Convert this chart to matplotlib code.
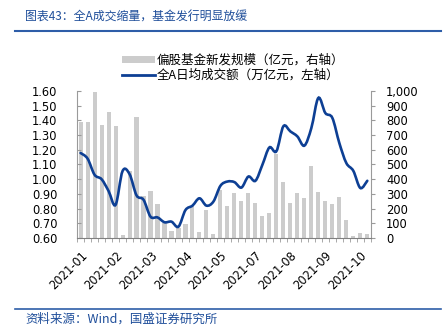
import numpy as np
import matplotlib
matplotlib.use('Agg')
import matplotlib.pyplot as plt
from matplotlib.path import Path
from matplotlib.patches import PathPatch, Patch
from matplotlib.lines import Line2D

plt.rcParams['font.family'] = ['Noto Sans CJK SC', 'DejaVu Sans']

# 周度数据
x_labels = ['2021-01', '2021-02', '2021-03', '2021-04', '2021-05',
            '2021-07', '2021-08', '2021-09', '2021-10']
label_every = 5

# 偏股基金新发规模（亿元）
fund_new = [790, 790, 990, 770, 860, 760, 18, 455, 820, 285,
            320, 232, 105, 48, 65, 92, 220, 40, 188, 30,
            325, 218, 305, 252, 305, 238, 147, 172, 572, 383,
            238, 304, 274, 488, 315, 250, 228, 277, 122, 12,
            35, 25]

# 全A日均成交额（万亿元）
turnover = [1.178, 1.14, 1.03, 1.00, 0.92, 0.825, 1.055, 1.035, 0.89, 0.86,
            0.745, 0.74, 0.707, 0.711, 0.677, 0.79, 0.82, 0.87, 0.82, 0.848,
            0.955, 0.984, 0.98, 0.943, 1.018, 0.989, 1.098, 1.216, 1.19, 1.36,
            1.325, 1.291, 1.228, 1.348, 1.553, 1.45, 1.417, 1.246, 1.11, 1.057,
            0.94, 0.989]

blue = '#0D3F94'
title_blue = '#1F4E9A'
grey_bar = '#CCCCCC'
axis_grey = '#9A9A9A'


def smooth_path(xs, ys):
    # 平滑折线：用三次贝塞尔曲线连接各数据点
    xs = np.asarray(xs, float)
    ys = np.asarray(ys, float)
    n = len(xs)
    verts = [(xs[0], ys[0])]
    codes = [Path.MOVETO]
    for i in range(n - 1):
        i0 = max(i - 1, 0)
        i3 = min(i + 2, n - 1)
        c1 = (xs[i] + (xs[i + 1] - xs[i0]) / 6, ys[i] + (ys[i + 1] - ys[i0]) / 6)
        c2 = (xs[i + 1] - (xs[i3] - xs[i]) / 6, ys[i + 1] - (ys[i3] - ys[i]) / 6)
        verts += [c1, c2, (xs[i + 1], ys[i + 1])]
        codes += [Path.CURVE4] * 3
    return Path(verts, codes)


fig = plt.figure(figsize=(4.43, 3.35), dpi=100)
ax = fig.add_axes([0.174, 0.2896, 0.663, 0.4388])
ax2 = ax.twinx()

x = np.arange(len(fund_new))

# 柱状图（右轴）
ax2.bar(x, fund_new, width=0.58, color=grey_bar, zorder=1)
ax2.set_ylim(0, 1000)
ax2.set_yticks(np.arange(0, 1001, 100))
ax2.set_yticklabels(['{:,}'.format(v) for v in range(0, 1001, 100)],
                    family='DejaVu Sans', fontsize=8.3)

# 成交额（左轴）
ax.set_zorder(ax2.get_zorder() + 1)
ax.patch.set_visible(False)
ax.add_patch(PathPatch(smooth_path(x, turnover), facecolor='none',
                       edgecolor=blue, lw=1.9, capstyle='round'))
ax.set_ylim(0.6, 1.6)
ax.set_yticks(np.arange(0.6, 1.61, 0.1))
ax.set_yticklabels(['%.2f' % v for v in np.arange(0.6, 1.61, 0.1)],
                   family='DejaVu Sans', fontsize=8.3)
ax.set_xlim(-0.5, len(fund_new) - 0.5)

ax.set_xticks(np.arange(-0.5, len(fund_new), 1), minor=True)
ax.set_xticks(np.arange(0, len(fund_new), label_every))
ax.set_xticklabels(x_labels, rotation=45, ha='right', rotation_mode='anchor',
                   family='DejaVu Sans', fontsize=8.3)
ax.tick_params(axis='x', which='major', length=0, pad=8)
ax.tick_params(axis='x', which='minor', length=3, color=axis_grey, direction='out')
ax.tick_params(axis='y', length=3, direction='in', color=axis_grey, pad=14)
ax2.tick_params(axis='y', length=3, direction='out', color=axis_grey, pad=8)

for a in (ax, ax2):
    a.spines['top'].set_visible(False)
    for s in ('left', 'right', 'bottom'):
        a.spines[s].set_color(axis_grey)
        a.spines[s].set_linewidth(0.8)
ax.spines['right'].set_visible(False)
ax2.spines['left'].set_visible(False)
ax2.spines['bottom'].set_visible(False)
ax.spines['bottom'].set_color('#808080')

# 图例
handles = [Patch(facecolor=grey_bar, edgecolor='none'),
           Line2D([], [], color=blue, lw=2)]
labels = ['偏股基金新发规模（亿元，右轴）', '全A日均成交额（万亿元，左轴）']
fig.legend(handles, labels, loc='upper left', bbox_to_anchor=(0.262, 0.858),
           frameon=False, fontsize=9, handlelength=2.6, handleheight=0.5,
           handletextpad=0.15, labelspacing=0.15, borderpad=0)

# 标题与来源
fig.text(0.057, 0.948, '图表43：全A成交缩量，基金发行明显放缓', color=title_blue,
         fontsize=8.6, va='center', ha='left')
fig.add_artist(Line2D([0.034, 0.995], [0.907, 0.907], color='#2E5DA8', lw=1.5))
fig.add_artist(Line2D([0.034, 0.995], [0.078, 0.078], color='#2E5DA8', lw=1.2))
fig.text(0.057, 0.048, '资料来源：Wind，国盛证券研究所', color=title_blue,
         fontsize=9, va='center', ha='left')

fig.savefig('out.png', dpi=100)
